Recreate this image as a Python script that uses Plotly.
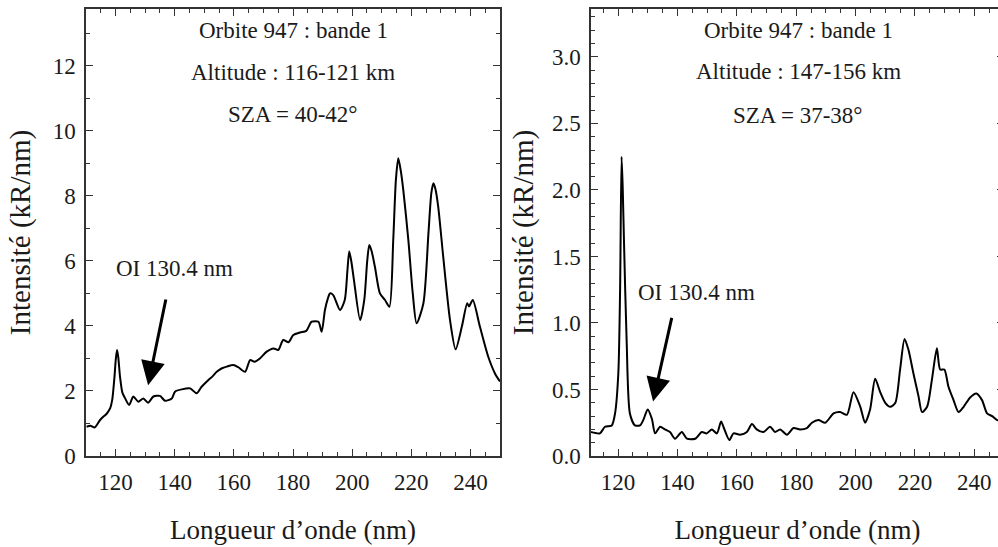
import plotly.graph_objects as go

# ---- Data ----
wl_left = [110.2, 111.5, 113, 114.7, 116, 117, 118.2, 118.9, 119.6, 120.1, 120.5, 120.9, 121.5, 122.3,
           123.2, 124.6, 126, 127.7, 129.4, 131,
           132.8, 135, 136.7, 139, 140.1, 142.4, 145.2, 147.4, 149.1, 151.4, 152.8, 154.2, 156, 157.6,
           159.8, 161.5, 163.8, 165.5, 167, 168.8, 171.1, 173.4, 175, 176.7, 178.5, 180.1, 182.4, 184.5,
           186.3, 188.6, 189.7, 190.8, 191.8, 192.5, 193.6, 195.9, 197.5, 198.4, 199, 199.7, 200.6,
           202.7, 204.1, 205.1, 205.8, 206.6, 207.7, 209.4, 211.1, 212.6, 213.9, 214.8, 215.6, 216.4,
           217.3, 219, 220.5, 221.8, 224.1, 225.8, 226.8, 227.5, 228.2, 229.1,
           230.8, 233.1, 235, 237.1, 238.9, 239.5, 240.8, 243.2, 246, 248.3, 250]
int_left = [0.90, 0.93, 0.88, 1.10, 1.22, 1.30, 1.48, 1.75, 2.40, 3.00, 3.26, 3.05, 2.44, 1.95,
            1.78, 1.57, 1.83, 1.67, 1.77, 1.64,
            1.83, 1.85, 1.70, 1.77, 1.98, 2.05, 2.08, 1.93, 2.13, 2.34, 2.45, 2.59, 2.70, 2.75,
            2.80, 2.73, 2.59, 2.95, 2.90, 3.00, 3.21, 3.31, 3.26, 3.57, 3.50, 3.72, 3.80, 3.85,
            4.13, 4.13, 3.82, 4.49, 4.85, 5.00, 4.95, 4.49, 4.80, 5.70, 6.29, 6.00, 5.42,
            4.18, 4.80, 6.00, 6.49, 6.30, 5.82, 5.00, 4.80, 4.59, 6.65, 8.50, 9.16, 8.80,
            8.18, 6.65, 5.00, 4.08, 4.70, 6.85, 8.10, 8.39, 8.20, 7.67,
            6.13, 4.18, 3.28, 3.98, 4.70, 4.60, 4.80, 3.98, 3.06, 2.54, 2.29]

wl_right = [110.9, 113.9, 115.6, 117.9, 119, 120.1, 120.7, 121.2, 121.6, 122, 122.9, 124, 125.7, 127.4,
            128.5, 130, 131.4, 132.5, 134.2, 135.8, 137.5, 139.2, 141.5, 143.2, 146, 148.2, 149.9, 151.6,
            153.3, 154.7, 155.5, 157.5, 158.9, 161.1, 163.4, 165.1, 166.7, 169, 171.2, 172.9, 174.6,
            176.9, 179.1, 181.3, 183.6, 185.3, 187.5, 189.8, 192.6, 194.8, 197.1, 199.3, 201.6,
            203.2, 204.9, 206.6, 208.3, 210, 211.7, 213.4, 215, 216.5, 217.8, 219.5, 221.2, 222.4,
            224.1, 225.7, 227.4, 228.5, 229.9, 231.3, 233, 234.7, 236.4, 238.6, 240.7, 242.6,
            244.3, 246, 247.7, 249, 250]
int_right = [0.18, 0.17, 0.22, 0.23, 0.32, 0.62, 1.25, 2.25, 2.00, 1.62, 0.87, 0.32, 0.23, 0.23,
             0.27, 0.35, 0.28, 0.17, 0.22, 0.20, 0.18, 0.13, 0.18, 0.13, 0.13, 0.18, 0.17, 0.20,
             0.17, 0.26, 0.22, 0.12, 0.17, 0.16, 0.18, 0.24, 0.20, 0.18, 0.22, 0.18, 0.20,
             0.16, 0.21, 0.20, 0.21, 0.25, 0.27, 0.25, 0.32, 0.33, 0.31, 0.48, 0.37,
             0.25, 0.35, 0.58, 0.48, 0.40, 0.37, 0.40, 0.65, 0.88, 0.80, 0.62, 0.45, 0.33,
             0.37, 0.57, 0.81, 0.65, 0.65, 0.52, 0.42, 0.33, 0.37, 0.44, 0.47, 0.42,
             0.32, 0.30, 0.27, 0.27, 0.26]

left_labels = ["Orbite 947 : bande 1", "Altitude : 116-121 km", "SZA = 40-42°"]
right_labels = ["Orbite 947 : bande 1", "Altitude : 147-156 km", "SZA = 37-38°"]
line_label = "OI 130.4 nm"

x_title = "Longueur d’onde (nm)"
y_title = "Intensité (kR/nm)"

FONT = "Liberation Serif"
TXT = "#1a1a1a"
W, H = 1004, 547   # slightly wider than the window: the right panel is cropped like the reference

fig = go.Figure()
fig.add_trace(go.Scatter(x=wl_left, y=int_left, mode="lines",
                         line=dict(color="black", width=2, shape="spline", smoothing=0.7),
                         xaxis="x", yaxis="y", showlegend=False, hoverinfo="skip"))
fig.add_trace(go.Scatter(x=wl_right, y=int_right, mode="lines",
                         line=dict(color="black", width=2, shape="spline", smoothing=0.7),
                         xaxis="x2", yaxis="y2", showlegend=False, hoverinfo="skip"))

ydom = [1 - 456 / H, 1 - 9 / H]

def xaxis_cfg(domain, rng, anchor):
    return dict(domain=domain, range=rng, anchor=anchor, automargin=False,
                tickvals=[120, 140, 160, 180, 200, 220, 240],
                ticks="inside", ticklen=7, tickwidth=1.3, tickcolor="#333",
                minor=dict(dtick=5, tick0=0, ticks="inside", ticklen=4, tickcolor="#333", tickwidth=1),
                showline=True, linecolor="#333", linewidth=1.5, mirror="allticks",
                showgrid=False, zeroline=False,
                tickfont=dict(family=FONT, size=23, color=TXT),
                title=dict(text=x_title, font=dict(family=FONT, size=27, color=TXT), standoff=26),
                ticklabelstandoff=5)

def yaxis_cfg(anchor, rng, dtick, minor, fmt, standoff):
    return dict(domain=ydom, range=rng, anchor=anchor, automargin=False, dtick=dtick, tick0=0,
                tickformat=fmt,
                ticks="inside", ticklen=7, tickwidth=1.3, tickcolor="#333",
                minor=dict(dtick=minor, tick0=0, ticks="inside", ticklen=4, tickcolor="#333", tickwidth=1),
                showline=True, linecolor="#333", linewidth=1.5, mirror="allticks",
                showgrid=False, zeroline=False,
                tickfont=dict(family=FONT, size=23, color=TXT),
                title=dict(text=y_title, font=dict(family=FONT, size=29, color=TXT), standoff=standoff),
                ticklabelstandoff=4)

fig.update_layout(
    width=W, height=H, margin=dict(l=0, r=0, t=0, b=0),
    paper_bgcolor="white", plot_bgcolor="white",
    xaxis=xaxis_cfg([86 / W, 500 / W], [110, 250], "y"),
    yaxis=yaxis_cfg("x", [0, 13.75], 2, 1, "d", 14),
    xaxis2=xaxis_cfg([591 / W, 1.0], [110.9, 250], "y2"),
    yaxis2=yaxis_cfg("x2", [0, 3.36], 0.5, 0.1, ".1f", 10),
)

annots = []
for txt, yv in zip(left_labels, [13.1, 11.8, 10.5]):
    annots.append(dict(x=180, y=yv, xref="x", yref="y", text=txt, showarrow=False,
                       font=dict(family=FONT, size=23, color=TXT)))
for txt, yv in zip(right_labels, [3.2, 2.89, 2.56]):
    annots.append(dict(x=180.7, y=yv, xref="x2", yref="y2", text=txt, showarrow=False,
                       font=dict(family=FONT, size=23, color=TXT)))
annots.append(dict(x=139.8, y=5.78, xref="x", yref="y", text=line_label, showarrow=False,
                   font=dict(family=FONT, size=23, color=TXT)))
annots.append(dict(x=146.3, y=1.23, xref="x2", yref="y2", text=line_label, showarrow=False,
                   font=dict(family=FONT, size=23, color=TXT)))
# arrows
annots.append(dict(x=131, y=2.18, xref="x", yref="y", ax=137.1, ay=4.86, axref="x", ayref="y",
                   text="", showarrow=True, arrowhead=2, arrowsize=1.6, arrowwidth=3, arrowcolor="black"))
annots.append(dict(x=131.8, y=0.41, xref="x2", yref="y2", ax=138.2, ay=1.05, axref="x2", ayref="y2",
                   text="", showarrow=True, arrowhead=2, arrowsize=1.6, arrowwidth=3, arrowcolor="black"))
fig.update_layout(annotations=annots)

fig.write_html("out.html", config={"displayModeBar": False},
               post_script="document.body.style.margin='0';document.body.style.overflow='hidden';")
